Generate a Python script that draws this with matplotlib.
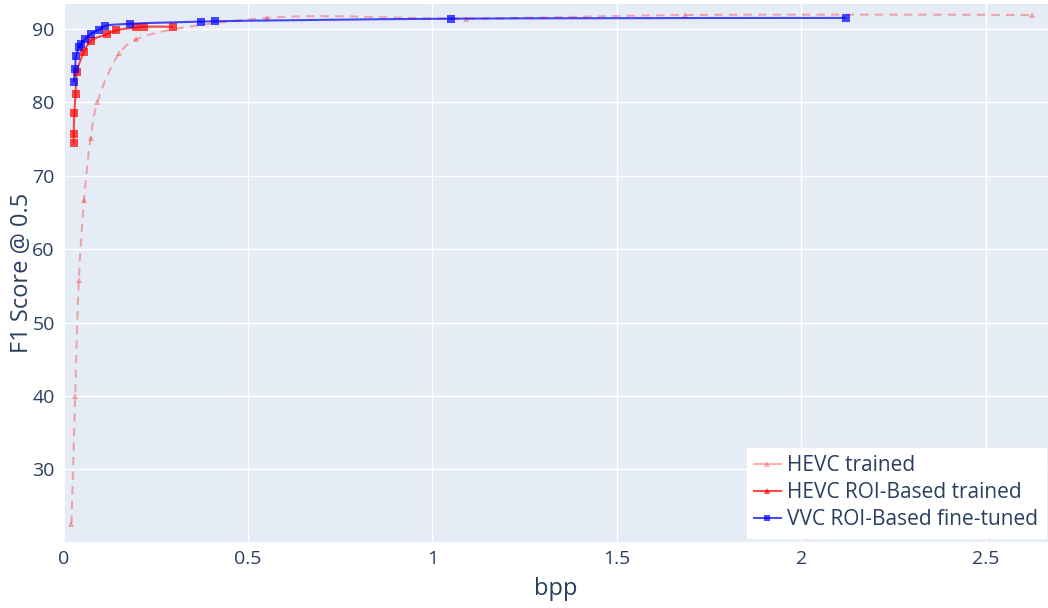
import matplotlib
matplotlib.use("Agg")
import numpy as np
import matplotlib.pyplot as plt
from matplotlib.lines import Line2D
from matplotlib.path import Path
from matplotlib.patches import PathPatch

# HEVC trained
hevc_bpp = [0.022, 0.032, 0.042, 0.056, 0.074, 0.092, 0.152, 0.198, 0.551, 1.09, 1.685, 2.625]
hevc_f1 = [22.6, 40.0, 55.8, 66.7, 75.2, 80.0, 86.7, 88.6, 91.5, 91.4, 91.9, 91.9]

# HEVC ROI-Based trained
roi_bpp = [0.028, 0.028, 0.030, 0.033, 0.037, 0.055, 0.075, 0.119, 0.143, 0.196, 0.218, 0.298]
roi_f1 = [74.4, 75.7, 78.6, 81.2, 84.2, 86.8, 88.4, 89.3, 89.8, 90.2, 90.3, 90.3]

# VVC ROI-Based fine-tuned
vvc_bpp = [0.028, 0.032, 0.034, 0.043, 0.048, 0.059, 0.074, 0.096, 0.113, 0.181, 0.373, 0.41, 1.051, 2.12]
vvc_f1 = [82.8, 84.5, 86.3, 87.5, 87.9, 88.6, 89.3, 89.9, 90.4, 90.7, 91.0, 91.05, 91.4, 91.5]

x_ticks = [0, 0.5, 1, 1.5, 2, 2.5]
x_tick_labels = ["0", "0.5", "1", "1.5", "2", "2.5"]
y_ticks = [30, 40, 50, 60, 70, 80, 90]
labels = ["HEVC trained", "HEVC ROI-Based trained", "VVC ROI-Based fine-tuned"]

font_color = "#2a3f5f"
plt.rcParams['font.family'] = ['Open Sans', 'DejaVu Sans']

fig = plt.figure(figsize=(10.48, 6.08), dpi=100)
ax = fig.add_axes([63/1048, 66/608, (1048-63)/1048, (542-4)/608])
ax.set_facecolor("#E5ECF6")
for s in ax.spines.values():
    s.set_visible(False)

ax.set_xlim(-0.001, 2.668)
ax.set_ylim(20.1, 93.4)
ax.set_xticks(x_ticks)
ax.set_xticklabels(x_tick_labels)
ax.set_yticks(y_ticks)
ax.grid(True, color="white", linewidth=1)
ax.set_axisbelow(True)
ax.axvline(0, color="white", linewidth=2, zorder=0.5)
ax.tick_params(length=0, labelsize=14, colors=font_color, pad=6)


def spline_path(xs, ys):
    """Plotly-style spline smoothing (Catmull-Rom, smoothing=1) in display space."""
    pts = ax.transData.transform(np.column_stack([xs, ys]))
    n = len(pts)
    tang = [None] * n
    for i in range(1, n - 1):
        p0, p1, p2 = pts[i - 1], pts[i], pts[i + 1]
        d1 = p0 - p1
        d2 = p2 - p1
        d1a = np.hypot(*d1) ** 0.5
        d2a = np.hypot(*d2) ** 0.5
        num = d2a * d2a * d1 - d1a * d1a * d2
        den1 = 3 * d2a * (d1a + d2a)
        den2 = 3 * d1a * (d1a + d2a)
        a = p1 + (num / den1 if den1 else 0)
        b = p1 - (num / den2 if den2 else 0)
        tang[i] = (a, b)
    verts = [pts[0]]
    codes = [Path.MOVETO]
    if n == 2:
        verts.append(pts[1]); codes.append(Path.LINETO)
    else:
        verts += [tang[1][0], pts[1]]
        codes += [Path.CURVE3, Path.CURVE3]
        for i in range(1, n - 2):
            verts += [tang[i][1], tang[i + 1][0], pts[i + 1]]
            codes += [Path.CURVE4] * 3
        verts += [tang[n - 2][1], pts[n - 1]]
        codes += [Path.CURVE3, Path.CURVE3]
    return Path(np.array(verts), codes)


def draw_series(xs, ys, color, alpha, ls, marker, ms, z):
    path = spline_path(xs, ys)
    patch = PathPatch(path, transform=None, facecolor="none", edgecolor=color,
                      alpha=alpha, linewidth=1.5, linestyle=ls, zorder=z)
    patch.set_clip_path(ax.patch)
    ax.add_artist(patch)
    ax.plot(xs, ys, linestyle="none", color=color, alpha=alpha, marker=marker,
            markersize=ms, markeredgewidth=0, zorder=z + 0.1)


draw_series(hevc_bpp, hevc_f1, "red", 0.3, (0, (4, 3)), "^", 5, 2)
draw_series(roi_bpp, roi_f1, "red", 0.7, "-", "s", 5.2, 3)
draw_series(vvc_bpp, vvc_f1, "blue", 0.7, "-", "s", 5.2, 4)

ax.set_xlabel("bpp", fontsize=17, color=font_color, labelpad=6)
ax.set_ylabel("F1 Score @ 0.5", fontsize=17, color=font_color)
ax.yaxis.set_label_coords((34 - 63) / 985, 0.5)

handles = [
    Line2D([], [], color="red", alpha=0.3, linewidth=1.5, marker="^", markersize=4, markeredgewidth=0),
    Line2D([], [], color="red", alpha=0.7, linewidth=1.5, marker="^", markersize=4, markeredgewidth=0),
    Line2D([], [], color="blue", alpha=0.7, linewidth=1.5, marker="s", markersize=4, markeredgewidth=0),
]
leg = ax.legend(handles, labels, loc="lower right", bbox_to_anchor=(0.9975, 0.008),
                fontsize=15, frameon=True, fancybox=False, framealpha=1,
                edgecolor="white", facecolor="white", handlelength=1.3,
                handletextpad=0.3, borderpad=0.35, labelspacing=0.3, borderaxespad=0)
for t in leg.get_texts():
    t.set_color(font_color)

fig.savefig("out.png", dpi=100)
